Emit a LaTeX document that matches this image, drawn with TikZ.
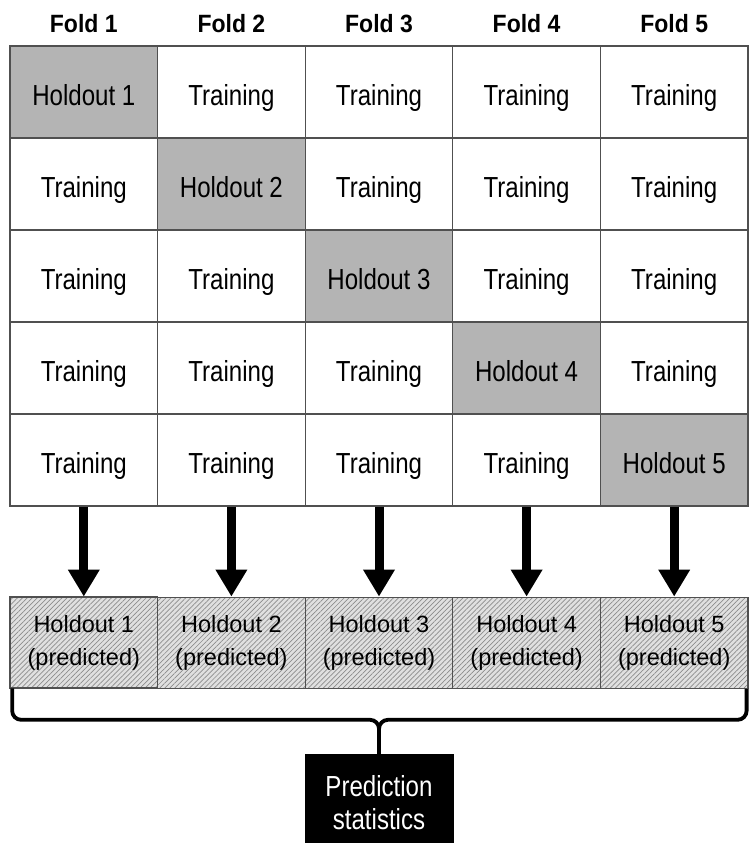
\documentclass[tikz,border=0pt]{standalone}
\usepackage{fontspec}
\setmainfont{Liberation Sans}
\newfontfamily\cellfont[FakeStretch=0.83]{Liberation Sans}
\newfontfamily\foldfont[FakeStretch=0.92]{Liberation Sans}
\usetikzlibrary{positioning,arrows.meta,patterns.meta}
\definecolor{holdgray}{RGB}{180,180,180}
\definecolor{gridline}{RGB}{80,80,80}
\definecolor{hatchbg}{RGB}{224,224,224}
\definecolor{hatchln}{RGB}{140,140,140}

\begin{document}
\begin{tikzpicture}[x=1pt,y=1pt,
  cell/.style={draw=gridline,line width=1.2pt,minimum width=147.6pt,minimum height=92pt,
    text height=27.4pt,text depth=0pt,font=\cellfont\fontsize{29}{33}\selectfont},
  hold/.style={cell,fill=holdgray},
  pred/.style={draw=gridline,line width=1.2pt,minimum width=147.6pt,minimum height=91pt,
    align=center,font=\fontsize{23.5}{33}\selectfont,preaction={fill=hatchbg},
    pattern={Lines[angle=45,distance=3.5pt,line width=0.7pt]},pattern color=hatchln},
  foldlbl/.style={font=\foldfont\bfseries\fontsize{25}{30}\selectfont},
  bigarrow/.style={line width=9pt,-{Triangle[width=30pt,length=27pt]}},
  bracelin/.style={line width=3.8pt,rounded corners=9pt},
  statbox/.style={fill=black,text=white,minimum width=149pt,minimum height=98pt,
    align=center,font=\cellfont\fontsize{29}{33}\selectfont}]
\tikzstyle{every node}+=[inner sep=0pt]
\useasboundingbox (0,0) rectangle (748,-843);
% fold grid
\node[hold] (c11) at (83.8,-92) {Holdout 1};
\node[cell] (c12) at (231.4,-92) {Training};
\node[cell] (c13) at (379.0,-92) {Training};
\node[cell] (c14) at (526.6,-92) {Training};
\node[cell] (c15) at (674.2,-92) {Training};
\node[cell] (c21) at (83.8,-184) {Training};
\node[hold] (c22) at (231.4,-184) {Holdout 2};
\node[cell] (c23) at (379.0,-184) {Training};
\node[cell] (c24) at (526.6,-184) {Training};
\node[cell] (c25) at (674.2,-184) {Training};
\node[cell] (c31) at (83.8,-276) {Training};
\node[cell] (c32) at (231.4,-276) {Training};
\node[hold] (c33) at (379.0,-276) {Holdout 3};
\node[cell] (c34) at (526.6,-276) {Training};
\node[cell] (c35) at (674.2,-276) {Training};
\node[cell] (c41) at (83.8,-368) {Training};
\node[cell] (c42) at (231.4,-368) {Training};
\node[cell] (c43) at (379.0,-368) {Training};
\node[hold] (c44) at (526.6,-368) {Holdout 4};
\node[cell] (c45) at (674.2,-368) {Training};
\node[cell] (c51) at (83.8,-460) {Training};
\node[cell] (c52) at (231.4,-460) {Training};
\node[cell] (c53) at (379.0,-460) {Training};
\node[cell] (c54) at (526.6,-460) {Training};
\node[hold] (c55) at (674.2,-460) {Holdout 5};
% fold headings
\node[foldlbl,above=12pt of c11] (f1) {Fold 1};
\node[foldlbl,above=12pt of c12] (f2) {Fold 2};
\node[foldlbl,above=12pt of c13] (f3) {Fold 3};
\node[foldlbl,above=12pt of c14] (f4) {Fold 4};
\node[foldlbl,above=12pt of c15] (f5) {Fold 5};
% predicted holdouts
\node[pred,below=90pt of c51] (p1) {Holdout 1\\(predicted)};
\node[pred,below=90pt of c52] (p2) {Holdout 2\\(predicted)};
\node[pred,below=90pt of c53] (p3) {Holdout 3\\(predicted)};
\node[pred,below=90pt of c54] (p4) {Holdout 4\\(predicted)};
\node[pred,below=90pt of c55] (p5) {Holdout 5\\(predicted)};
\draw[bigarrow] (c51.south) -- (p1.north);
\draw[bigarrow] (c52.south) -- (p2.north);
\draw[bigarrow] (c53.south) -- (p3.north);
\draw[bigarrow] (c54.south) -- (p4.north);
\draw[bigarrow] (c55.south) -- (p5.north);
% statistics
\node[statbox,below=65pt of p3] (stat) {Prediction\\statistics};
\draw[bracelin] ([xshift=2.5pt]p1.south west) |- ([yshift=34pt]stat.north) -- (stat.north);
\draw[bracelin] ([xshift=-2pt]p5.south east) |- ([yshift=34pt]stat.north) -- (stat.north);
\end{tikzpicture}
\end{document}
